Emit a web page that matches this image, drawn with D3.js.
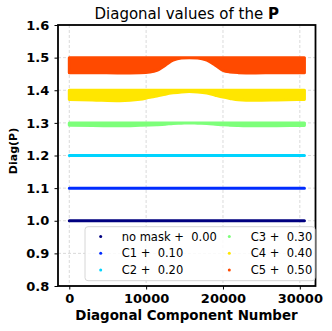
<!DOCTYPE html>
<html><head><meta charset="utf-8">
<script src="https://cdn.jsdelivr.net/npm/d3@7"></script>
<style>
html,body{margin:0;padding:0;background:#fff;}
svg{display:block;font-family:"DejaVu Sans",sans-serif;}
</style></head>
<body><svg id="chart" width="332" height="331"></svg>
<script>
// ---- data ----
const seriesNames = ["no mask", "C1", "C2", "C3", "C4", "C5"];
const offsets = [0.0, 0.1, 0.2, 0.3, 0.4, 0.5];
const colors = ["#000080", "#002cff", "#00d4ff", "#7dff7a", "#ffe600", "#ff4a00"];
// constant series: component index and diagonal value
const flatComp = [0, 30600];
const flatValue = [1.0, 1.0];
// banded series: envelope (lower/upper) of the scattered diagonal values
const bandComp = [0, 3000, 6600, 9200, 10500, 11400, 12500, 13500, 14600, 15600, 16700, 17900, 19000, 20000, 20900, 22000, 24000, 27000, 30600];
const bandUpper = [1.0, 1.0, 1.0, 1.0, 1.0, 1.0, 1.0, 1.0, 1.0, 1.0, 1.0, 1.0, 1.0, 1.0, 1.0, 1.0, 1.0, 1.0, 1.0];
const c3Lower = [0.9925, 0.992, 0.991, 0.9925, 0.9935, 0.9945, 0.996, 0.998, 0.999, 1.0, 0.999, 0.998, 0.996, 0.994, 0.993, 0.992, 0.991, 0.9915, 0.992];
const c4Lower = [0.972, 0.970, 0.9675, 0.972, 0.9785, 0.982, 0.988, 0.992, 0.995, 0.996, 0.995, 0.9915, 0.9847, 0.979, 0.975, 0.971, 0.969, 0.970, 0.972];
const c5Lower = [0.954, 0.954, 0.953, 0.954, 0.956, 0.961, 0.977, 0.992, 0.999, 1.0, 0.999, 0.992, 0.977, 0.961, 0.956, 0.954, 0.953, 0.954, 0.954];
const xTicks = [0, 10000, 20000, 30000];
const yTicks = [0.8, 0.9, 1.0, 1.1, 1.2, 1.3, 1.4, 1.5, 1.6];

// ---- build series ----
function flatSeries() { return flatComp.map((c, i) => ({c, lo: flatValue[i], hi: flatValue[i]})); }
function bandSeries(lower) { return bandComp.map((c, i) => ({c, lo: lower[i], hi: bandUpper[i]})); }
const seriesData = [flatSeries(), flatSeries(), flatSeries(), bandSeries(c3Lower), bandSeries(c4Lower), bandSeries(c5Lower)];

const svg = d3.select("#chart");
const L = 58, R = 315.5, T = 25, B = 286;
const x = d3.scaleLinear().domain([-1470, 32040]).range([L, R]);
const y = d3.scaleLinear().domain([0.8, 1.6]).range([B, T]);

// grid
const grid = svg.append("g");
grid.selectAll(".gx").data(xTicks).enter().append("line")
  .attr("x1", d => x(d)).attr("x2", d => x(d)).attr("y1", T).attr("y2", B)
  .attr("stroke", "#d0d0d0").attr("stroke-width", 0.8).attr("stroke-dasharray", "3,2");
grid.selectAll(".gy").data(yTicks).enter().append("line")
  .attr("y1", d => y(d)).attr("y2", d => y(d)).attr("x1", L).attr("x2", R)
  .attr("stroke", "#d0d0d0").attr("stroke-width", 0.8).attr("stroke-dasharray", "3,2");

// data bands
const area = d3.area().x(d => x(d.c)).y0((d) => d.y0).y1(d => d.y1).curve(d3.curveMonotoneX);
seriesData.forEach((s, k) => {
  const pts = s.map(d => ({c: d.c, y0: y(d.lo + offsets[k]), y1: y(d.hi + offsets[k])}));
  svg.append("path").datum(pts).attr("d", area)
    .attr("fill", colors[k]).attr("stroke", colors[k])
    .attr("stroke-width", 3).attr("stroke-linejoin", "round");
});

// axes
const ax = svg.append("g").attr("transform", `translate(0,${B})`)
  .call(d3.axisBottom(x).tickValues(xTicks).tickFormat(d3.format("d")).tickSize(3.5).tickPadding(3.8));
const ay = svg.append("g").attr("transform", `translate(${L},0)`)
  .call(d3.axisLeft(y).tickValues(yTicks).tickFormat(d3.format(".1f")).tickSize(3.5).tickPadding(5.2));
[ax, ay].forEach(g => {
  g.select(".domain").remove();
  g.selectAll("line").attr("stroke", "#000").attr("stroke-width", 1);
  g.selectAll("text").attr("font-family", "DejaVu Sans").attr("font-size", 13).attr("font-weight", "bold").attr("fill", "#000");
});

// spines
svg.append("rect").attr("x", L).attr("y", T).attr("width", R - L).attr("height", B - T)
  .attr("fill", "none").attr("stroke", "#000").attr("stroke-width", 1.8);

// labels
const title = svg.append("text").attr("x", 186.7).attr("y", 18.5).attr("text-anchor", "middle")
  .attr("font-size", 15).attr("fill", "#000");
title.append("tspan").text("Diagonal values of the ");
title.append("tspan").attr("font-weight", "bold").text("P");

svg.append("text").attr("x", 186.5).attr("y", 320).attr("text-anchor", "middle")
  .attr("font-size", 13.4).attr("font-weight", "bold").text("Diagonal Component Number");
svg.append("text").attr("transform", "translate(17,151) rotate(-90)").attr("text-anchor", "middle")
  .attr("font-size", 11).attr("font-weight", "bold").text("Diag(P)");

// legend
const lg = svg.append("g");
lg.append("rect").attr("x", 85).attr("y", 226.7).attr("width", 230).attr("height", 54)
  .attr("rx", 3).attr("fill", "#fff").attr("fill-opacity", 0.85).attr("stroke", "#d6d6d6").attr("stroke-width", 1);
seriesNames.forEach((n, k) => {
  const col = Math.floor(k / 3), row = k % 3;
  const mx = col === 0 ? 100.7 : 229.3, tx = col === 0 ? 121.7 : 250.7;
  const cy = 236.5 + row * 16.7;
  lg.append("circle").attr("cx", mx).attr("cy", cy).attr("r", 1.5).attr("fill", colors[k]);
  lg.append("text").attr("x", tx).attr("y", cy + 4.1).attr("font-size", 11.5).attr("fill", "#000")
    .attr("xml:space", "preserve").style("white-space", "pre")
    .text(`${n} +  ${offsets[k].toFixed(2)}`);
});
</script></body></html>
